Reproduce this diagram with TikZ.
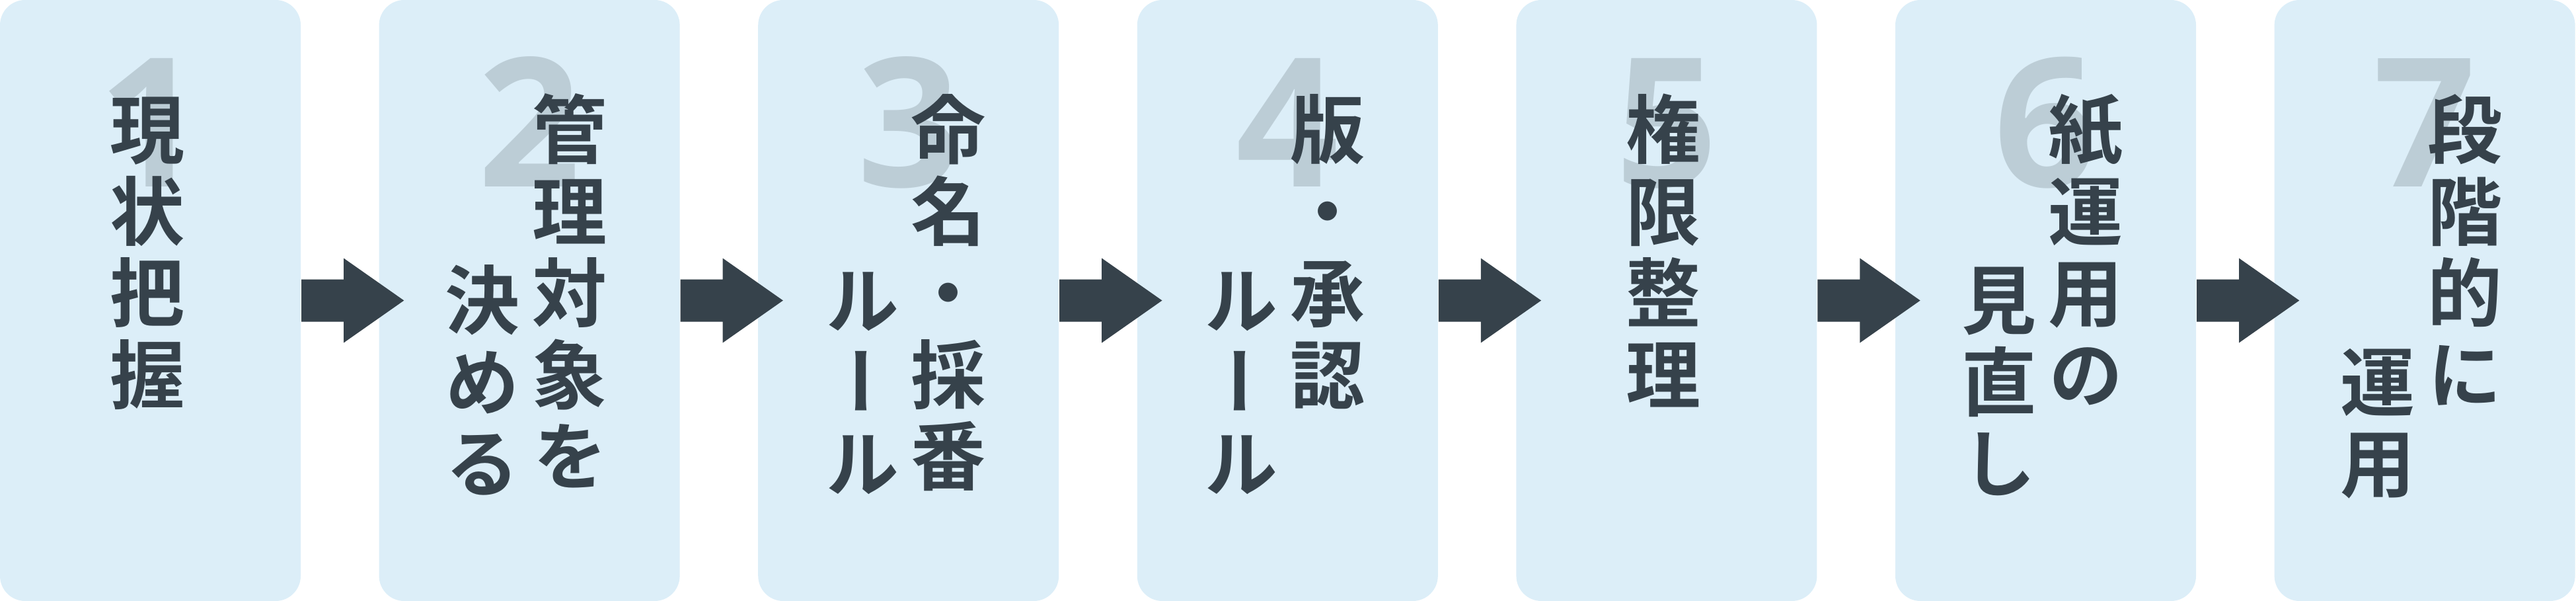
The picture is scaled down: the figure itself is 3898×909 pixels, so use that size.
\documentclass[tikz,border=0pt]{standalone}
\usepackage{fontspec}
\newfontfamily\jp{Noto Sans CJK JP Bold}[RawFeature=+vert]
\IfFontExistsTF{Open Sans Bold}
  {\newfontfamily\numfont{Open Sans Bold}\def\numsize{272}}
  {\IfFontExistsTF{OpenSans-Bold}
    {\newfontfamily\numfont{OpenSans-Bold}\def\numsize{272}}
    {\newfontfamily\numfont{Noto Sans CJK JP Bold}\def\numsize{270}}}
\usetikzlibrary{calc}
\definecolor{boxfill}{HTML}{DCEEF8}
\definecolor{numc}{HTML}{BCCDD6}
\definecolor{inkc}{HTML}{36424B}
\newcommand\jcol[6]{%
  \foreach \ch [count=\k from #5] in {#6}
    \node[jch] (t#1#2\k) at ({227.5+573.6*(#1-1)+#3},{196+123.5*(\k-1)+#4}) {\ch};%
}
\begin{document}
\begin{tikzpicture}[x=1pt,y=-1pt,
  stepbox/.style={fill=boxfill, draw=none, rounded corners=38pt, minimum width=455pt, minimum height=909pt, inner sep=0pt, outer sep=0pt},
  numlbl/.style={font=\numfont\fontsize{\numsize}{\numsize}\selectfont, text=numc, anchor=base, inner sep=0pt},
  jch/.style={font=\jp\fontsize{113}{113}\selectfont, text=inkc, inner sep=0pt, text height=99.4pt, text depth=13.6pt, text width=113pt, align=center, anchor=center},
  arr/.style={fill=inkc, draw=none}]
\useasboundingbox (0,0) rectangle (3898,909);
% boxes
\foreach \i in {1,...,7}
  \node[stepbox] (b\i) at ({227.5+573.6*(\i-1)},454.5) {};
% arrows
\foreach \i in {1,...,6}
  \fill[arr, shift={(b\i.east)}] (1,-32) -- (65,-32) -- (65,-64) -- (156.3,0) -- (65,64) -- (65,32) -- (1,32) -- cycle;
% numbers
\foreach \i in {1,...,7}
  \node[numlbl] (n\i) at ({227.5+573.6*(\i-1)},283) {\i};
% texts
\jcol{1}{s}{-5}{0}{1}{現,状,把,握}
\jcol{2}{r}{60.5}{0}{1}{管,理,対,象,を}
\jcol{2}{l}{-71}{11}{3}{決,め,る}
\jcol{3}{r}{60.5}{0}{1}{命,名,・,採,番}
\jcol{3}{l}{-71}{11}{3}{ル,ー,ル}
\jcol{4}{r}{60.5}{0}{1}{版,・,承,認}
\jcol{4}{l}{-71}{11}{3}{ル,ー,ル}
\jcol{5}{s}{-5}{0}{1}{権,限,整,理}
\jcol{6}{r}{60.5}{0}{1}{紙,運,用,の}
\jcol{6}{l}{-71}{11}{3}{見,直,し}
\jcol{7}{r}{60.5}{0}{1}{段,階,的,に}
\jcol{7}{l}{-71}{11}{4}{運,用}
\end{tikzpicture}
\end{document}
